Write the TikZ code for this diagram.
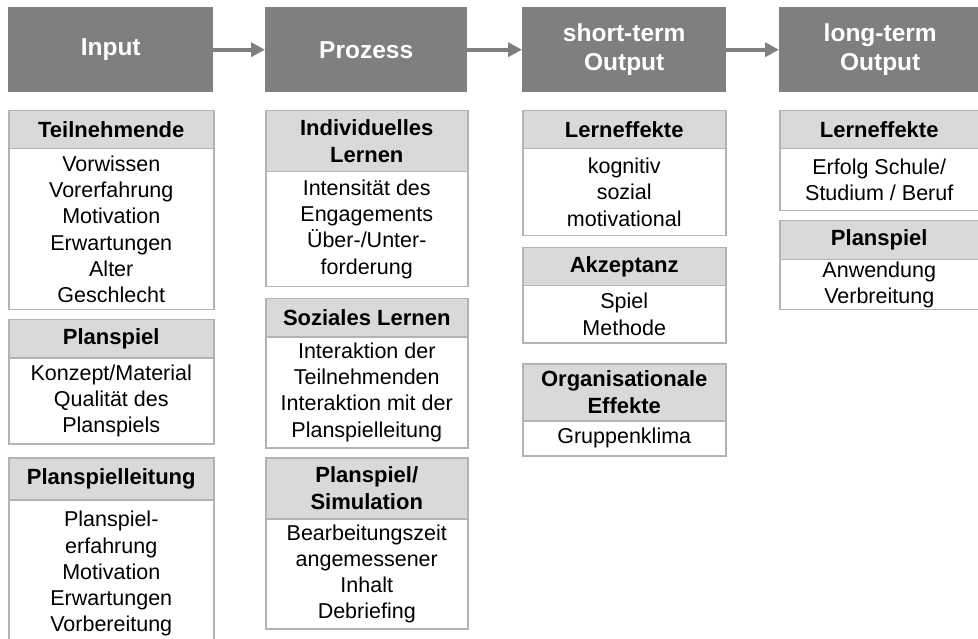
\documentclass[tikz,border=0pt]{standalone}
\usepackage{fontspec}
\setmainfont{Liberation Sans}
\usetikzlibrary{arrows.meta}
\definecolor{hdgray}{HTML}{7F7F7F}
\definecolor{catfill}{HTML}{D9D9D9}
\definecolor{bordergray}{HTML}{B3B3B3}
\tikzset{
  mainhd/.style={fill=hdgray, text=white, inner sep=0pt, align=center, anchor=north west,
    minimum height=85pt, font=\fontsize{24.5}{28.5}\selectfont\bfseries},
  cathd/.style={fill=catfill, draw=bordergray, line width=1.5pt, inner sep=0pt, align=center,
    anchor=north west, font=\fontsize{22}{26.5}\selectfont\bfseries},
  catbody/.style={fill=white, draw=bordergray, line width=1.5pt, inner sep=0pt, align=center,
    anchor=north west, font=\fontsize{21.5}{26.2}\selectfont},
  flowarr/.style={draw=hdgray, line width=4pt, -{Triangle[length=14pt,width=14pt]}, shorten >=0pt}
}
\begin{document}
\begin{tikzpicture}[x=1pt,y=-1pt]
\useasboundingbox (0,0) rectangle (978,639);
% main headers
\node[mainhd, minimum width=205pt] (in) at (8,7) {\raisebox{-2pt}{Input}};
\node[mainhd, minimum width=202pt] (proz) at (265,7) {\raisebox{-2pt}{Prozess}};
\node[mainhd, minimum width=204pt] (st) at (522,7) {short-term\\Output};
\node[mainhd, minimum width=202pt] (lt) at (779,7) {long-term\\Output};
\draw[flowarr] (in.east) -- (proz.west);
\draw[flowarr] (proz.east) -- (st.west);
\draw[flowarr] (st.east) -- (lt.west);
% column 1
\node[cathd, minimum width=205pt, minimum height=38pt] (tnh) at (8,110) {Teilnehmende};
\node[catbody, minimum width=205pt, minimum height=161pt] (tnb) at (8,148) {Vorwissen\\Vorerfahrung\\Motivation\\Erwartungen\\Alter\\Geschlecht};
\node[cathd, minimum width=205pt, minimum height=38pt] (psh) at (8,319) {Planspiel};
\node[catbody, minimum width=205pt, minimum height=86pt] (psb) at (8,357) {Konzept/Material\\Qualität des\\Planspiels};
\node[cathd, minimum width=205pt, minimum height=42pt] (plh) at (8,457) {Planspielleitung};
\node[catbody, minimum width=205pt, minimum height=148pt] (plb) at (8,499) {Planspiel-\\erfahrung\\Motivation\\Erwartungen\\Vorbereitung};
% column 2
\node[cathd, minimum width=202pt, minimum height=61pt] (ilh) at (265,110) {Individuelles\\Lernen};
\node[catbody, minimum width=202pt, minimum height=115pt] (ilb) at (265,171) {Intensität des\\Engagements\\Über-/Unter-\\forderung};
\node[cathd, minimum width=202pt, minimum height=38pt] (slh) at (265,298) {Soziales Lernen};
\node[catbody, minimum width=202pt, minimum height=111pt] (slb) at (265,336) {Interaktion der\\Teilnehmenden\\Interaktion mit der\\Planspielleitung};
\node[cathd, minimum width=202pt, minimum height=61pt] (simh) at (265,457) {Planspiel/\\Simulation};
\node[catbody, minimum width=202pt, minimum height=110pt] (simb) at (265,518) {Bearbeitungszeit\\angemessener\\Inhalt\\Debriefing};
% column 3
\node[cathd, minimum width=203pt, minimum height=38pt] (leh) at (522,110) {Lerneffekte};
\node[catbody, minimum width=203pt, minimum height=87pt] (leb) at (522,148) {kognitiv\\sozial\\motivational};
\node[cathd, minimum width=203pt, minimum height=38pt] (akh) at (522,247) {Akzeptanz};
\node[catbody, minimum width=203pt, minimum height=57pt] (akb) at (522,285) {Spiel\\Methode};
\node[cathd, minimum width=203pt, minimum height=57pt] (orh) at (522,363) {Organisationale\\Effekte};
\node[catbody, minimum width=203pt, minimum height=35pt] (orb) at (522,420) {Gruppenklima};
% column 4
\node[cathd, minimum width=199pt, minimum height=38pt] (lleh) at (779,110) {Lerneffekte};
\node[catbody, minimum width=199pt, minimum height=62pt] (lleb) at (779,148) {Erfolg Schule/\\Studium / Beruf};
\node[cathd, minimum width=199pt, minimum height=39pt] (lpsh) at (779,220) {Planspiel};
\node[catbody, minimum width=199pt, minimum height=50pt] (lpsb) at (779,259) {Anwendung\\Verbreitung};
\end{tikzpicture}
\end{document}
